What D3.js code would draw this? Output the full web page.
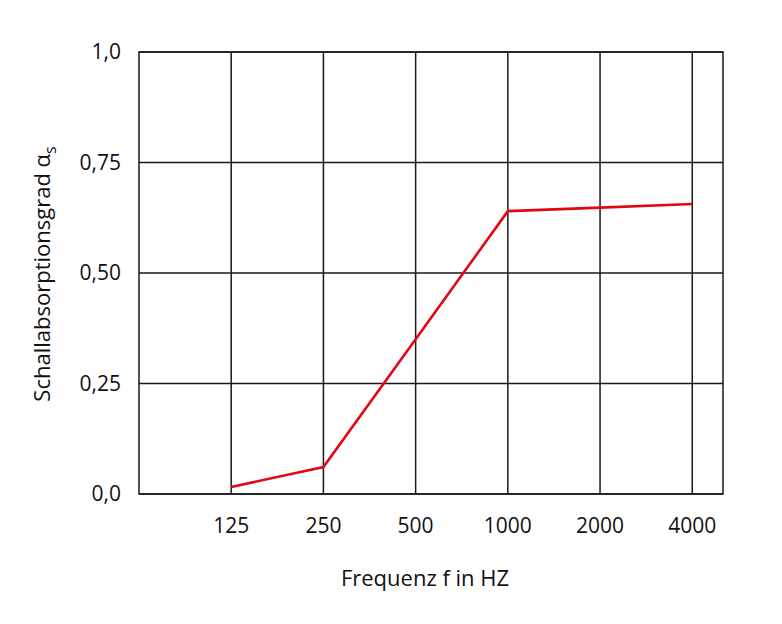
<!DOCTYPE html>
<html>
<head>
<meta charset="utf-8">
<script src="https://cdn.jsdelivr.net/npm/d3@7"></script>
<style>
  body { margin: 0; background: #fff; }
  text { font-family: "Open Sans", "Noto Sans", sans-serif; fill: #111; }
</style>
</head>
<body>
<div id="wrapper"></div>
<script>
// data
const frequencies = ['125', '250', '500', '1000', '2000', '4000']
const absorption = [0.016, 0.061, 0.35, 0.64, 0.648, 0.656]
const yTicks = [0, 0.25, 0.5, 0.75, 1]
const yTickLabels = ['0,0', '0,25', '0,50', '0,75', '1,0']

const dimensions = {
  width: 782,
  height: 624,
  margin: { top: 52, right: 59, bottom: 130, left: 139 },
}
dimensions.boundedWidth = dimensions.width - dimensions.margin.left - dimensions.margin.right
dimensions.boundedHeight = dimensions.height - dimensions.margin.top - dimensions.margin.bottom

const svg = d3.select('#wrapper').append('svg')
  .attr('width', dimensions.width)
  .attr('height', dimensions.height)

const bounds = svg.append('g')
  .attr('transform', `translate(${dimensions.margin.left},${dimensions.margin.top})`)

// scales - one empty step on the left, a third of a step on the right
const step = dimensions.boundedWidth / (frequencies.length + 1 / 3)
const xScale = d3.scalePoint()
  .domain(frequencies)
  .range([step, step * frequencies.length])

const yScale = d3.scaleLinear()
  .domain([0, 1])
  .range([dimensions.boundedHeight, 0])

// grid
bounds.append('g')
  .selectAll('line')
  .data(frequencies)
  .join('line')
  .attr('x1', (d) => xScale(d))
  .attr('x2', (d) => xScale(d))
  .attr('y1', 0)
  .attr('y2', dimensions.boundedHeight)
  .attr('stroke', '#1a1a1a')
  .attr('stroke-width', 1.5)

bounds.append('g')
  .selectAll('line')
  .data(yTicks)
  .join('line')
  .attr('x1', 0)
  .attr('x2', dimensions.boundedWidth)
  .attr('y1', (d) => yScale(d))
  .attr('y2', (d) => yScale(d))
  .attr('stroke', '#1a1a1a')
  .attr('stroke-width', 1.5)

bounds.append('rect')
  .attr('width', dimensions.boundedWidth)
  .attr('height', dimensions.boundedHeight)
  .attr('fill', 'none')
  .attr('stroke', '#1a1a1a')
  .attr('stroke-width', 1.5)

// line
const lineGenerator = d3.line()
  .x((d, i) => xScale(frequencies[i]))
  .y((d) => yScale(d))

bounds.append('path')
  .datum(absorption)
  .attr('d', lineGenerator)
  .attr('fill', 'none')
  .attr('stroke', '#e30613')
  .attr('stroke-width', 2.6)
  .attr('stroke-linejoin', 'miter')

// axes labels
bounds.append('g')
  .selectAll('text')
  .data(yTicks)
  .join('text')
  .attr('x', -18)
  .attr('y', (d) => yScale(d))
  .attr('dy', '0.35em')
  .attr('text-anchor', 'end')
  .style('font-size', '21px')
  .text((d, i) => yTickLabels[i])

bounds.append('g')
  .selectAll('text')
  .data(frequencies)
  .join('text')
  .attr('x', (d) => xScale(d))
  .attr('y', dimensions.boundedHeight + 39)
  .attr('text-anchor', 'middle')
  .style('font-size', '21px')
  .text((d) => d)

bounds.append('text')
  .attr('x', 425 - dimensions.margin.left)
  .attr('y', dimensions.boundedHeight + 92)
  .attr('text-anchor', 'middle')
  .style('font-size', '22px')
  .text('Frequenz f in HZ')

const yLabel = svg.append('text')
  .attr('transform', `translate(50, 274) rotate(-90)`)
  .attr('text-anchor', 'middle')
  .style('font-size', '22px')
yLabel.append('tspan').text('Schallabsorptionsgrad α')
yLabel.append('tspan').attr('dy', 6).style('font-size', '16px').text('s')
</script>
</body>
</html>
